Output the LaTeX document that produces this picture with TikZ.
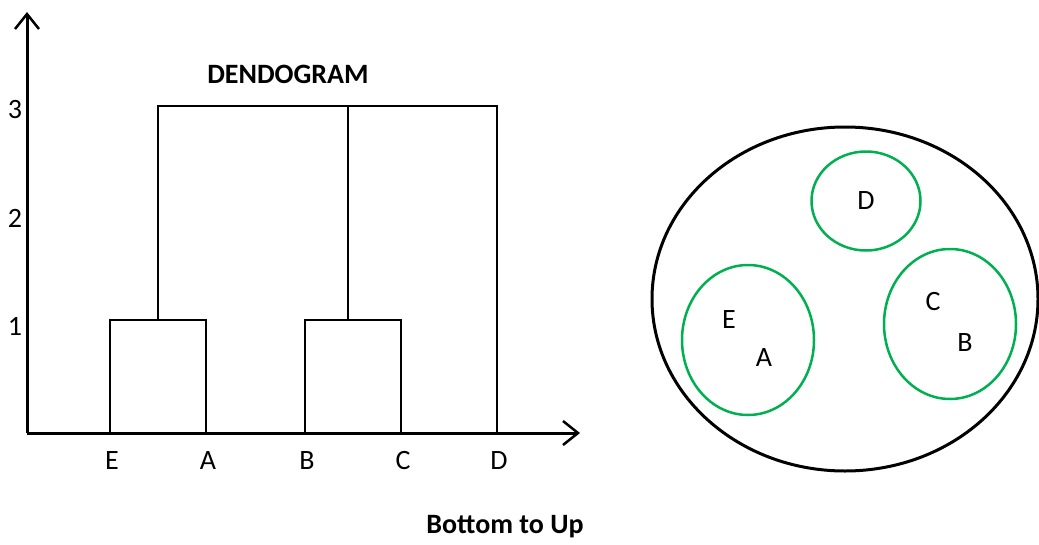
\documentclass[tikz,border=0pt]{standalone}
\usepackage{fontspec}
\setmainfont{Carlito}
\usetikzlibrary{arrows.meta,shapes.geometric}
\definecolor{clusterGreen}{HTML}{00B050}

\begin{document}
\begin{tikzpicture}[x=1pt,y=-1pt,font=\fontsize{28}{33}\selectfont,
    axis/.style={line width=3pt,-{Straight Barb[length=15pt,width=24pt,line width=2.5pt]}},
    link/.style={line width=2.5pt},
    stem/.style={line width=1.6pt},
    hull/.style={draw,ellipse,line width=3pt,inner sep=0pt},
    group/.style={draw=clusterGreen,ellipse,line width=2.5pt,inner sep=0pt}]
  \useasboundingbox (0,0) rectangle (1039,544);
  % axes
  \coordinate (origin) at (27,433);
  \coordinate (yEnd) at (27,12);
  \coordinate (xEnd) at (580,433);
  \draw[axis] (origin) -- (yEnd);
  \draw[axis] (origin) -- (xEnd);
  \node (tick1) at (15,326) {1};
  \node (tick2) at (15,218) {2};
  \node (tick3) at (15,110) {3};
  \node[font=\fontsize{28}{33}\selectfont\bfseries] (title) at (288,74) {DENDOGRAM};
  \node[font=\fontsize{28}{33}\selectfont\bfseries] (caption) at (505,527) {Bottom to Up};

  % leaves
  \foreach \name/\x in {E/110,A/206,B/305,C/401,D/497}{
    \coordinate (base\name) at (\x,433);
    \node (leaf\name) at (\x+2,461) {\name};
  }
  \coordinate (topEA) at (158,320);
  \coordinate (topBC) at (348,320);
  \coordinate (rootL) at (158,106);
  \coordinate (rootM) at (348,106);
  \coordinate (rootR) at (497,106);
  \draw[link] (baseE) |- (topEA) -| (baseA);
  \draw[link] (baseB) |- (topBC) -| (baseC);
  \draw[stem] (topEA) -- (rootL) -- (rootR) -- (baseD);
  \draw[stem] (topBC) -- (rootM);

  % clusters
  \node[hull,minimum width=386pt,minimum height=344pt] (all) at (845,299) {};
  \node[group,minimum width=109pt,minimum height=99pt] (grpD) at (866,201) {};
  \node[group,minimum width=132pt,minimum height=150pt] (grpEA) at (748,340) {};
  \node[group,minimum width=132pt,minimum height=150pt] (grpCB) at (950,324) {};
  \node (inD) at (866,201) {D};
  \node (inE) at (729,320) {E};
  \node (inA) at (764,358) {A};
  \node (inC) at (933,302) {C};
  \node (inB) at (965,343) {B};
\end{tikzpicture}
\end{document}
